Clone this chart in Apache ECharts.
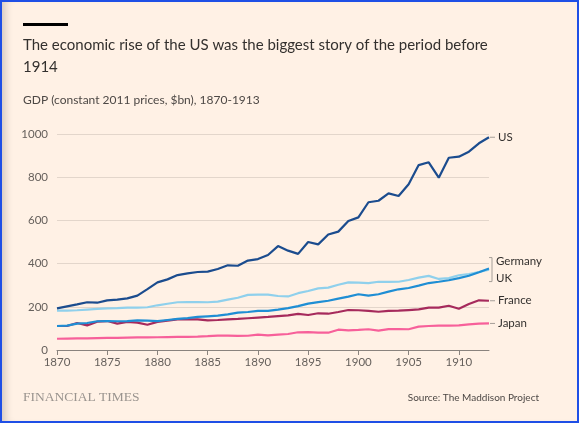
<!DOCTYPE html>
<html>
<head>
<meta charset="utf-8">
<script src="https://cdn.jsdelivr.net/npm/echarts@6/dist/echarts.min.js"></script>
<style>
  html, body { margin: 0; padding: 0; background: #fff1e5; }
  #main { position: absolute; left: 0; top: 0; width: 579px; height: 423px; }
  #frame { position: absolute; left: 0; top: 0; width: 579px; height: 423px; box-sizing: border-box;
           border: 2px solid #1f4fe6; box-shadow: inset 9px 0 8px -6px rgba(0,0,0,0.18); pointer-events: none; }
</style>
</head>
<body>
<div id="main"></div>
<div id="frame"></div>
<script>
// GDP, constant 2011 prices, $bn
var years = [];
for (var y = 1870; y <= 1913; y++) years.push(y);

var us = [193, 202, 211, 221, 219, 230, 233, 239, 252, 282,
          313, 327, 347, 355, 361, 363, 375, 392, 390, 414,
          421, 440, 481, 460, 445, 500, 489, 535, 548, 597,
          614, 684, 691, 725, 713, 767, 856, 869, 798, 890,
          895, 918, 957, 985];
var uk = [182, 182, 184, 187, 190, 193, 194, 196, 196, 198,
          207, 214, 221, 222, 222, 221, 224, 233, 242, 255,
          256, 256, 250, 248, 263, 273, 285, 289, 302, 313,
          312, 310, 316, 315, 316, 324, 335, 343, 329, 333,
          346, 352, 361, 372];
var germany = [111, 113, 122, 125, 133, 134, 133, 134, 137, 136,
               134, 139, 144, 148, 153, 156, 159, 165, 173, 176,
               181, 181, 187, 194, 203, 215, 222, 228, 238, 247,
               258, 252, 258, 270, 281, 287, 298, 310, 316, 323,
               333, 344, 360, 377];
var france = [111, 111, 125, 114, 131, 134, 122, 130, 127, 117,
              130, 136, 142, 142, 142, 137, 139, 142, 144, 147,
              150, 153, 157, 160, 167, 162, 170, 168, 176, 185,
              184, 181, 177, 181, 182, 185, 188, 196, 196, 205,
              191, 213, 230, 228];
var japan = [52, 53, 54, 54, 55, 56, 56, 57, 58, 58,
             59, 60, 61, 61, 62, 64, 67, 67, 65, 66,
             71, 68, 71, 74, 82, 83, 80, 80, 94, 91,
             93, 96, 90, 97, 97, 96, 108, 111, 113, 113,
             114, 119, 122, 123];

var yTicks = [0, 200, 400, 600, 800, 1000];

function pairs(vals) {
  return vals.map(function (v, i) { return [years[i], v]; });
}

var labelRich = {
  l: { width: 5, height: 1, backgroundColor: '#a59e98' },
  t: { fontFamily: 'Lato', fontSize: 11.5, color: '#33302e', padding: [0, 0, 0, 3] }
};

function line(name, vals, color, label) {
  return {
    name: name,
    type: 'line',
    data: pairs(vals),
    symbol: 'none',
    lineStyle: { color: color, width: 2.2 },
    itemStyle: { color: color },
    emphasis: { disabled: true },
    endLabel: label
  };
}

var myChart = echarts.init(document.getElementById('main'));

var option = {
  backgroundColor: '#fff1e5',
  animation: false,
  title: [
    {
      text: 'The economic rise of the US was the biggest story of the period before\n1914',
      left: 23,
      top: 34,
      padding: 0,
      textStyle: { fontFamily: 'Lato', fontSize: 15, fontWeight: 'normal', color: '#33302e', lineHeight: 22 }
    },
    {
      text: 'GDP (constant 2011 prices, $bn), 1870-1913',
      left: 23,
      top: 94,
      padding: 0,
      textStyle: { fontFamily: 'Lato', fontSize: 12, fontWeight: 'normal', color: '#4d4845' }
    },
    {
      text: 'FINANCIAL TIMES',
      left: 23,
      top: 390,
      padding: 0,
      textStyle: { fontFamily: 'Liberation Serif', fontSize: 13.5, fontWeight: 'normal', color: '#9a948f' }
    },
    {
      text: 'Source: The Maddison Project',
      right: 40,
      top: 393,
      padding: 0,
      textStyle: { fontFamily: 'Lato', fontSize: 10, fontWeight: 'normal', color: '#4d4845' }
    }
  ],
  grid: { left: 57, right: 90, top: 134, bottom: 73 },
  xAxis: {
    type: 'value',
    min: 1870,
    max: 1913,
    interval: 5,
    axisLine: { lineStyle: { color: '#8a837e', width: 1 } },
    axisTick: { show: true, length: 5, lineStyle: { color: '#8a837e' } },
    axisLabel: {
      fontFamily: 'Lato', fontSize: 11.5, color: '#66605c', margin: 6,
      showMaxLabel: false,
      formatter: function (v) { return String(v); }
    },
    splitLine: { show: false }
  },
  yAxis: {
    type: 'value',
    min: yTicks[0],
    max: yTicks[yTicks.length - 1],
    interval: 200,
    axisLine: { show: false },
    axisTick: { show: false },
    axisLabel: {
      fontFamily: 'Lato', fontSize: 11.5, color: '#66605c', margin: 9,
      formatter: function (v) { return String(v); }
    },
    splitLine: { lineStyle: { color: '#e3d6cb', width: 1 } }
  },
  series: [
    line('Japan', japan, '#f7609a', { show: true, formatter: '{l|}{t|Japan}', rich: labelRich, distance: 1 }),
    line('France', france, '#a62a5c', { show: true, formatter: '{l|}{t|France}', rich: labelRich, distance: 1 }),
    line('UK', uk, '#8fd0ec', { show: true, formatter: '{t|UK}', rich: labelRich, distance: 4, offset: [0, 9] }),
    line('Germany', germany, '#1f8ed4', { show: true, formatter: '{t|Germany}', rich: labelRich, distance: 4, offset: [0, -7] }),
    line('US', us, '#1b4c8e', { show: true, formatter: '{l|}{t|US}', rich: labelRich, distance: 1 })
  ]
};

myChart.setOption(option);

// bracket grouping the Germany / UK labels, placed from the chart's own scales
var last = years.length - 1;
var end = myChart.convertToPixel({ gridIndex: 0 }, [years[last], germany[last]]);
var bx = end[0] + 3;
var by = end[1] + 1;
myChart.setOption({
  graphic: [
    { type: 'rect', left: 23, top: 23, shape: { width: 45, height: 3 }, style: { fill: '#000000' } },
    {
      type: 'polyline',
      shape: { points: [[bx - 3, by - 12], [bx, by - 12], [bx, by + 12], [bx - 3, by + 12]] },
      style: { stroke: '#a59e98', lineWidth: 1, fill: 'none' },
      z: 10
    }
  ]
});
</script>
</body>
</html>
